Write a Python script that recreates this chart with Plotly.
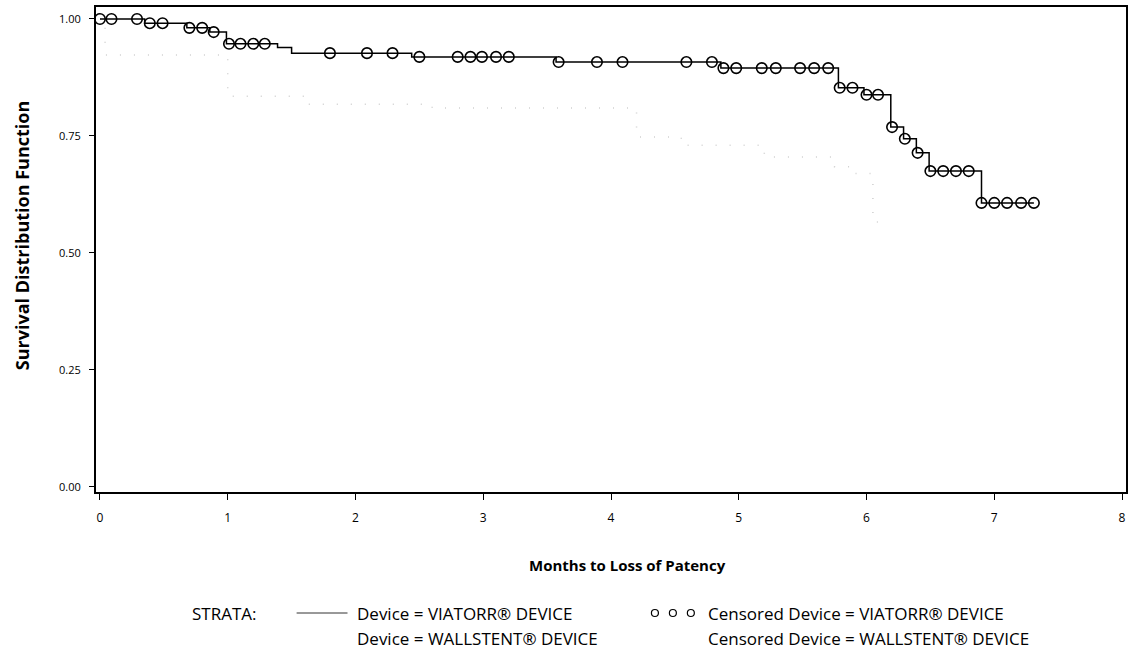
import plotly.graph_objects as go
import numpy as np

# ---- data ----
viatorr_step_times = [0.0, 0.35, 0.68, 0.86, 0.99, 1.39, 1.50, 2.44, 3.57, 4.86, 5.78, 5.98, 6.19, 6.29, 6.39, 6.49, 6.90]
viatorr_survival   = [1.000, 0.991, 0.981, 0.972, 0.947, 0.939, 0.927, 0.919, 0.908, 0.895, 0.853, 0.838, 0.769, 0.744, 0.714, 0.675, 0.607]
viatorr_end_time = 7.31
viatorr_censor_times = [0.0, 0.09, 0.29, 0.39, 0.49, 0.70, 0.80, 0.89, 1.01, 1.10, 1.20, 1.29,
                        1.80, 2.09, 2.29, 2.50, 2.80, 2.90, 2.99, 3.10, 3.20, 3.59, 3.89, 4.09,
                        4.59, 4.79, 4.88, 4.98, 5.18, 5.29, 5.48, 5.59, 5.70, 5.79, 5.89, 6.00,
                        6.09, 6.20, 6.30, 6.40, 6.50, 6.60, 6.70, 6.80, 6.90, 7.00, 7.10, 7.21, 7.31]

wallstent_step_times = [0.0, 0.04, 1.00, 1.60, 2.60, 4.20, 4.55, 5.20, 5.75, 5.90, 6.05]
wallstent_survival   = [1.000, 0.923, 0.835, 0.818, 0.810, 0.748, 0.730, 0.705, 0.684, 0.670, 0.566]
wallstent_end_time = 6.12

x_ticks = [0, 1, 2, 3, 4, 5, 6, 7, 8]
y_ticks = [0.0, 0.25, 0.5, 0.75, 1.0]

x_title = "Months to Loss of Patency"
y_title = "Survival Distribution Function"
label_v = "Device = VIATORR\u00ae DEVICE"
label_w = "Device = WALLSTENT\u00ae DEVICE"
label_cv = "Censored Device = VIATORR\u00ae DEVICE"
label_cw = "Censored Device = WALLSTENT\u00ae DEVICE"


def step_xy(times, surv, end):
    return list(times) + [end], list(surv) + [surv[-1]]


def surv_at(t, times, surv):
    idx = np.searchsorted(np.array(times), t, side="right") - 1
    return surv[max(idx, 0)]


FONT = "Open Sans"
W, H = 1131, 650
ML, MR, MT, MB = 96, 3, 7, 158

fig = go.Figure()

wx, wy = step_xy(wallstent_step_times, wallstent_survival, wallstent_end_time)
fig.add_trace(go.Scatter(x=wx, y=wy, mode="lines", line_shape="hv",
                         line=dict(color="#cfcfcf", width=1.5, dash="1px,13px"),
                         name=label_w, showlegend=False))

vx, vy = step_xy(viatorr_step_times, viatorr_survival, viatorr_end_time)
fig.add_trace(go.Scatter(x=vx, y=vy, mode="lines", line_shape="hv",
                         line=dict(color="black", width=1.5),
                         name=label_v, showlegend=False))

cy = [surv_at(t, viatorr_step_times, viatorr_survival) for t in viatorr_censor_times]
fig.add_trace(go.Scatter(x=viatorr_censor_times, y=cy, mode="markers",
                         marker=dict(symbol="circle-open", size=10.5, color="black",
                                     line=dict(width=1.6, color="black")),
                         name=label_cv, showlegend=False))


def px2paper(px, py):
    return (px - ML) / (W - ML - MR), 1 - (py - MT) / (H - MT - MB)


annos = []
shapes = []
row1, row2 = 613, 638
for text, px, py in [("STRATA:", 190, row1), (label_v, 356, row1), (label_w, 356, row2),
                     (label_cv, 707, row1), (label_cw, 707, row2)]:
    xp, yp = px2paper(px, py)
    annos.append(dict(text=text, x=xp, y=yp, xref="paper", yref="paper",
                      xanchor="left", yanchor="middle", showarrow=False,
                      font=dict(family=FONT, size=17, color="black")))

# axis titles
xp, yp = px2paper(629, 565)
annos.append(dict(text="<b>" + x_title + "</b>", x=xp, y=yp, xref="paper", yref="paper",
                  xanchor="center", yanchor="middle", showarrow=False,
                  font=dict(family=FONT, size=15, color="black")))
xp, yp = px2paper(22, 236)
annos.append(dict(text="<b>" + y_title + "</b>", x=xp, y=yp, xref="paper", yref="paper",
                  xanchor="center", yanchor="middle", showarrow=False, textangle=-90,
                  font=dict(family=FONT, size=18, color="black")))

x0, y0 = px2paper(297, row1)
x1, _ = px2paper(348, row1)
shapes.append(dict(type="line", xref="paper", yref="paper", x0=x0, x1=x1, y0=y0, y1=y0,
                   line=dict(color="#333333", width=1)))
for cxp in [656, 674, 692]:
    ax0, ay0 = px2paper(cxp - 3.5, row1 + 3.5)
    ax1, ay1 = px2paper(cxp + 3.5, row1 - 3.5)
    shapes.append(dict(type="circle", xref="paper", yref="paper", x0=ax0, x1=ax1,
                       y0=ay0, y1=ay1, line=dict(color="black", width=1.2)))

fig.update_layout(
    width=W, height=H,
    margin=dict(l=ML, r=MR, t=MT, b=MB, pad=0),
    paper_bgcolor="white", plot_bgcolor="white",
    font=dict(family=FONT, color="black"),
    annotations=annos, shapes=shapes,
    showlegend=False,
)
fig.update_xaxes(range=[-0.031, 8.031], tickvals=x_ticks, ticktext=[str(v) for v in x_ticks],
                 showgrid=False, zeroline=False, showline=True, mirror=True,
                 linecolor="black", linewidth=1.5, ticks="outside", ticklen=6,
                 tickcolor="black", ticklabelstandoff=8,
                 tickfont=dict(family=FONT, size=12))
fig.update_yaxes(range=[-0.0107, 1.0256], tickvals=y_ticks, tickformat=".2f",
                 showgrid=False, zeroline=False, showline=True, mirror=True,
                 linecolor="black", linewidth=2, ticks="outside", ticklen=5,
                 tickcolor="black", ticklabelstandoff=6,
                 tickfont=dict(family=FONT, size=11))

fig.write_html("out.html", config={"displayModeBar": False},
               post_script="document.body.style.margin='0';")
